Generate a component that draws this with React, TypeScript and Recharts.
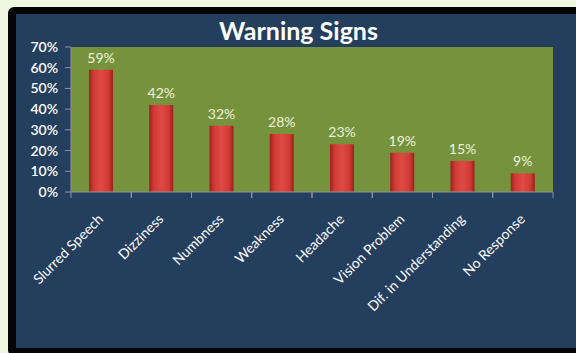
import React from 'react';
import { Bar, BarChart, CartesianGrid, LabelList, XAxis, YAxis } from 'recharts';

const categories = [
  'Slurred Speech',
  'Dizziness',
  'Numbness',
  'Weakness',
  'Headache',
  'Vision Problem',
  'Dif. in Understanding',
  'No Response',
];
const percentages = [59, 42, 32, 28, 23, 19, 15, 9];
const yTicks = [0, 10, 20, 30, 40, 50, 60, 70];

const data = categories.map((name, i) => ({ name, value: percentages[i] }));

const W = 576;
const H = 353;
const margin = { top: 47, right: 23, left: 21, bottom: 61 };
const yAxisWidth = 50;
const band = (W - margin.left - margin.right - yAxisWidth) / categories.length;

const font = "Lato, 'Open Sans', sans-serif";
const colors = {
  page: '#eef7e0',
  frame: '#050505',
  navy: '#243e5e',
  plot: '#76923c',
  axis: '#8a96a4',
  text: '#ffffff',
  label: '#eef3dc',
};

const CategoryTick = (props: any) => {
  const { x, y, payload } = props;
  const ax = x + 3;
  const ay = y + 20;
  return (
    <g>
      <line x1={x - band / 2} y1={y - 8} x2={x - band / 2} y2={y - 2} stroke={colors.axis} />
      <line x1={x + band / 2} y1={y - 8} x2={x + band / 2} y2={y - 2} stroke={colors.axis} />
      <text
        x={ax}
        y={ay}
        transform={`rotate(-45, ${ax}, ${ay})`}
        textAnchor="end"
        fill={colors.text}
        fontSize={14}
        fontFamily={font}
      >
        {payload.value}
      </text>
    </g>
  );
};

const App: React.FC = () => {
  return (
    <div style={{ position: 'absolute', left: 0, top: 0, width: W, height: H, background: colors.page, overflow: 'hidden' }}>
      <div
        style={{
          position: 'absolute',
          left: 8,
          top: 7,
          width: W,
          height: H - 4,
          background: colors.frame,
          borderRadius: 6,
        }}
      />
      <div style={{ position: 'absolute', left: 16, top: 14, width: W, height: 334, background: colors.navy }} />
      <div
        style={{
          position: 'absolute',
          left: 0,
          width: 597,
          top: 15,
          textAlign: 'center',
          color: colors.text,
          fontFamily: font,
          fontWeight: 700,
          fontSize: 25,
          lineHeight: '30px',
        }}
      >
        Warning Signs
      </div>
      <div style={{ position: 'absolute', left: 0, top: 0 }}>
        <BarChart width={W} height={H} data={data} margin={margin} barCategoryGap="30%">
          <defs>
            <linearGradient id="barFill" x1="0" y1="0" x2="1" y2="0">
              <stop offset="0%" stopColor="#9c1f1c" />
              <stop offset="18%" stopColor="#cf3a35" />
              <stop offset="50%" stopColor="#e04a44" />
              <stop offset="82%" stopColor="#cf3a35" />
              <stop offset="100%" stopColor="#9c1f1c" />
            </linearGradient>
          </defs>
          <CartesianGrid fill={colors.plot} stroke="none" />
          <XAxis
            dataKey="name"
            interval={0}
            height={100}
            axisLine={{ stroke: colors.axis }}
            tickLine={false}
            tick={<CategoryTick />}
          />
          <YAxis
            width={yAxisWidth}
            domain={[0, 70]}
            ticks={yTicks}
            interval={0}
            axisLine={{ stroke: colors.axis }}
            tickLine={{ stroke: colors.axis }}
            tickSize={6}
            tickMargin={7}
            tickFormatter={(v: number) => `${v}%`}
            tick={{ fill: colors.text, fontSize: 14, fontFamily: font, fontWeight: 600 }}
          />
          <Bar dataKey="value" fill="url(#barFill)" barSize={24} isAnimationActive={false}>
            <LabelList
              dataKey="value"
              position="top"
              offset={7}
              formatter={(v: number) => `${v}%`}
              fill={colors.label}
              fontSize={14}
              fontFamily={font}
            />
          </Bar>
        </BarChart>
      </div>
    </div>
  );
};

export default App;
